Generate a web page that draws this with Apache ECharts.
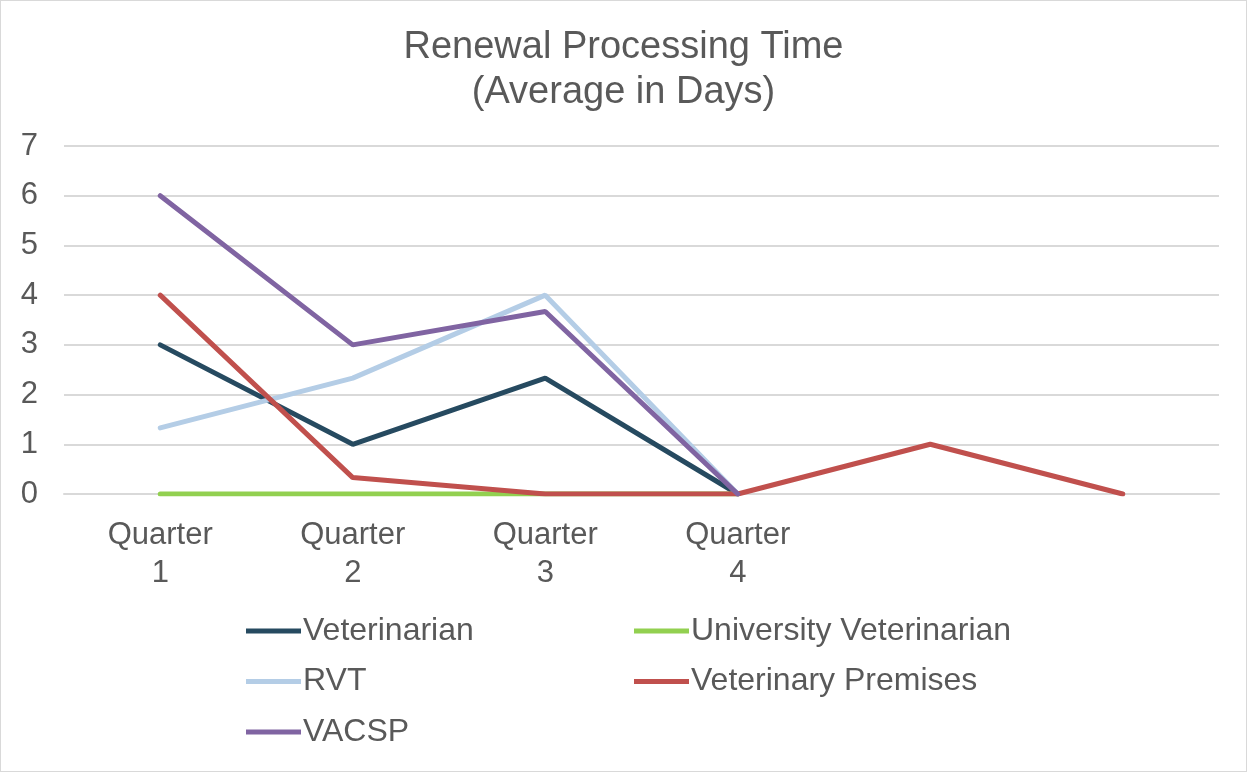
<!DOCTYPE html>
<html>
<head>
<meta charset="utf-8">
<script src="https://cdn.jsdelivr.net/npm/echarts@6/dist/echarts.min.js"></script>
<style>
  html, body { margin: 0; padding: 0; background: #fff; }
  #chart { width: 1247px; height: 772px; box-sizing: border-box; border: 1px solid #d9d9d9; }
</style>
</head>
<body>
<div id="chart"></div>
<script>
// 数据
const categories = ['Quarter\n1', 'Quarter\n2', 'Quarter\n3', 'Quarter\n4', '', ''];
const veterinarian = [3, 1, 2.33, 0];
const universityVet = [0, 0, 0, 0];
const rvt = [1.33, 2.33, 4, 0];
const premises = [4, 0.33, 0, 0, 1, 0];
const vacsp = [6, 3, 3.67, 0];
const yTicks = [0, 1, 2, 3, 4, 5, 6, 7];

const textColor = '#595959';
const font = 'Liberation Sans, Arial, sans-serif';

const chart = echarts.init(document.getElementById('chart'));

function lineSeries(name, data, color) {
  return {
    name: name,
    type: 'line',
    data: data,
    symbol: 'none',
    lineStyle: { width: 5, color: color, cap: 'round' },
    itemStyle: { color: color },
    emphasis: { disabled: true }
  };
}

const legendBase = {
  orient: 'vertical',
  top: 609,
  itemWidth: 55,
  itemHeight: 14,
  itemGap: 18.5,
  icon: 'path://M0,0 L55,0 L55,5 L0,5 Z',
  textStyle: { fontSize: 32, lineHeight: 30, color: textColor, fontFamily: font, padding: [0, 0, 0, -3] }
};

const option = {
  animation: false,
  title: {
    text: 'Renewal Processing Time\n(Average in Days)',
    left: 'center',
    top: 19,
    textStyle: { fontSize: 38, fontWeight: 'normal', color: textColor, fontFamily: font, lineHeight: 45 }
  },
  legend: [
    Object.assign({}, legendBase, { left: 240, data: ['Veterinarian', 'RVT', 'VACSP'] }),
    Object.assign({}, legendBase, { left: 628, data: ['University Veterinarian', 'Veterinary Premises'] })
  ],
  grid: { left: 63, right: 27, top: 145, bottom: 277, containLabel: false },
  xAxis: {
    type: 'category',
    data: categories,
    boundaryGap: true,
    axisLine: { show: true, lineStyle: { color: '#d9d9d9', width: 2 } },
    axisTick: { show: false },
    axisLabel: { fontSize: 31, color: textColor, fontFamily: font, lineHeight: 38, margin: 22, interval: 0 }
  },
  yAxis: {
    type: 'value',
    min: yTicks[0],
    max: yTicks[yTicks.length - 1],
    interval: 1,
    axisLine: { show: false },
    axisTick: { show: false },
    axisLabel: { fontSize: 31, color: textColor, fontFamily: font, margin: 26 },
    splitLine: { lineStyle: { color: '#d9d9d9', width: 2 } }
  },
  series: [
    lineSeries('Veterinarian', veterinarian, '#264a60'),
    lineSeries('University Veterinarian', universityVet, '#92d050'),
    lineSeries('RVT', rvt, '#b4cde6'),
    lineSeries('Veterinary Premises', premises, '#c0504d'),
    lineSeries('VACSP', vacsp, '#8064a2')
  ]
};

chart.setOption(option);
</script>
</body>
</html>
